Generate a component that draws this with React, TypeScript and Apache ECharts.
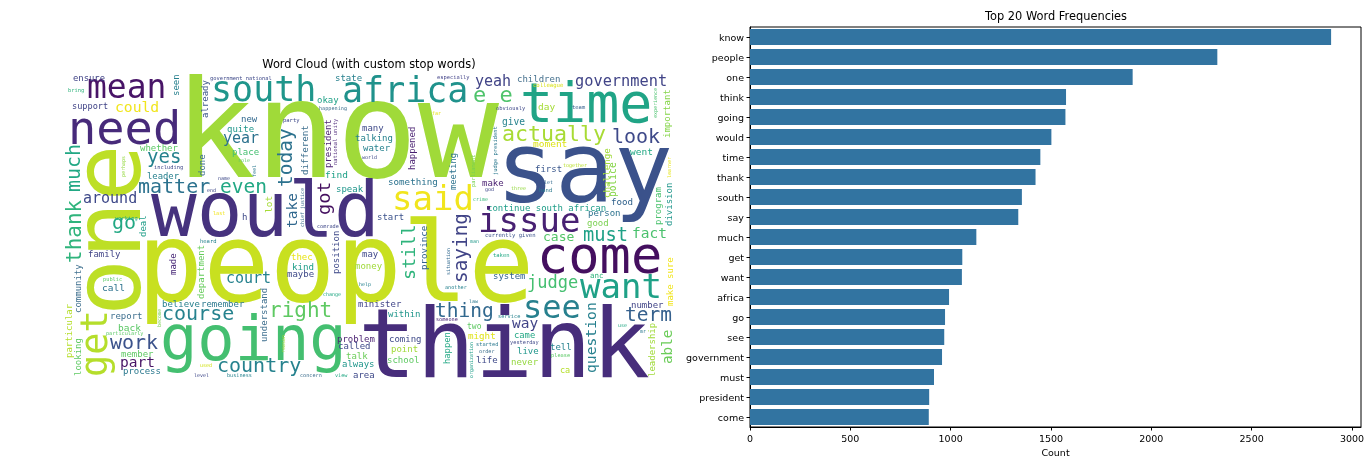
import React, { useEffect, useRef } from "react";
import * as echarts from "echarts";

const barWords = ["know","people","one","think","going","would","time","thank","south","say","much","get","want","africa","go","see","government","must","president","come"];
const barCounts = [2896,2329,1907,1575,1572,1502,1447,1423,1355,1337,1128,1058,1056,992,972,968,957,917,893,891];
const countTicks = [0,500,1000,1500,2000,2500,3000];

const cloudWords = ["know","people","one","would","say","think","going","time","mean","need","south","africa","said","actually","e e","yeah","children","government","look","moment","give","day","obviously","team","far","colleague","especially","parliament","judge president","happened","meeting","important","experience","challenge","police","program","division","learner","went","first","together","something","make","god","three","let","hand","crime","continue south african","food","person","good","start","issue","saying","still","province","situation","man","currently given","taken","another","system","law","service","case","must","fact","come","want","judge","anc","see","thing","term","number","make sure","question","way","within","two","someone","might","came","use","mr","leadership","able","tell","please","ca","live","never","life","yesterday","started","order","organization","happen","coming","point","school","minister","area","always","talk","called","problem","help","may","money","change","position","comrade","thec","kind","maybe","court","call","public","family","heard","made","department","understand","believe","remember","course","right","report","back","work","particularly","member","part","process","country","used","level","business","concern","view","reason","become","get","looking","particular","community","thank","much","go","deal","working","around","matter","even","yes","whether","including","leader","perhaps","could","support","ensure","bring","seen","already","government national","state","okay","happening","party","new","quite","year","place","role","done","name","end","feel","lot","last","h","take","today","different","president","national unity","got","chief justice","find","speak","many","talking","water","world"];

// word -> [start x, baseline y, font size, vertical, colour] in page pixels of the cloud image
const cloudLayout: Record<string, [number, number, number, number, string]> = {
  know:[174,177,135,0,"#a0da39"], people:[137,301,110,0,"#c8e020"], one:[140,316,95,1,"#bddf26"], would:[151,236,76,0,"#46327e"], say:[496,202,98,0,"#3b528b"], think:[358,377,97,0,"#472d7b"], going:[160,360,62,0,"#44bf70"], time:[520,122,55,0,"#20a486"],
  mean:[87,98,33,0,"#481467"], need:[68,144,47,0,"#472a7a"], south:[211,101,35,0,"#1f968b"], africa:[342,102,35,0,"#20928c"], said:[392,210,34,0,"#f1e51d"], actually:[502,141,21.6,0,"#a8db34"], "e e":[473,102,22,0,"#4ec36b"], yeah:[475,86,15,0,"#414487"], children:[517,82,9,0,"#46718e"], government:[575,86,15.3,0,"#414487"], look:[612,143,20,0,"#3e4989"], moment:[533,147,9.5,0,"#dde318"], give:[502,125,9.6,0,"#26828e"], day:[538,110,9.5,0,"#a5db36"], obviously:[496,110,5.4,0,"#3f4889"], team:[572,109,5.5,0,"#355f8d"], far:[432,115,5,0,"#e5e419"], colleague:[533,87,5.6,0,"#d8e219"], especially:[437,79,5.4,0,"#46468a"],
  parliament:[475,187,5.4,1,"#7ad151"], "judge president":[497,175,5.4,1,"#2a788e"], happened:[415,170,9,1,"#481f70"], meeting:[456,190,8.8,1,"#2c728e"], important:[670,138,9,1,"#86d549"], experience:[657,118,5,1,"#4ac16d"], challenge:[610,198,9.2,1,"#a0da39"], police:[616,197,9.6,1,"#86d549"], program:[661,225,9,1,"#4ac16d"], division:[672,226,9,1,"#1f968b"], learner:[671,178,5,1,"#e5e419"],
  went:[630,155,9.5,0,"#22a884"], first:[535,172,9,0,"#39568c"], together:[563,167,5,0,"#b8de29"], something:[388,185,9.2,0,"#2c728e"], make:[482,186,9,0,"#481f70"], god:[485,191,5,0,"#3f4889"], three:[511,190,5,0,"#95d840"], let:[544,184,5,0,"#31688e"], hand:[539,192,5.5,0,"#2a788e"], crime:[473,201,5,0,"#35b779"], "continue south african":[487,211,9,0,"#1f9e89"], food:[611,205,9.2,0,"#33638d"], person:[588,216,9,0,"#2c728e"], good:[587,226,9,0,"#7ad151"], start:[377,220,9,0,"#3b528b"], issue:[478,232,34,0,"#482173"],
  saying:[467,283,19.4,1,"#414487"], still:[415,280,18.5,1,"#2fb47c"], province:[427,270,9.2,1,"#33638d"], situation:[450,275,5,1,"#31688e"], man:[470,243,5,0,"#2a9d8f"], "currently given":[485,237,5.6,0,"#3b528b"], taken:[493,257,5.5,0,"#22a884"], another:[445,289,5.2,0,"#26828e"], system:[493,279,9,0,"#33638d"], law:[469,303,5,0,"#2a788e"], service:[498,318,5.3,0,"#26828e"], case:[543,241,13,0,"#54c568"], must:[583,241,18.7,0,"#1fa187"], fact:[632,238,14.5,0,"#4ac16d"], come:[537,273,52,0,"#440f5f"], want:[580,298,34,0,"#1fa187"], judge:[527,288,17,0,"#44bf70"], anc:[590,278,7.5,0,"#2eb37c"], see:[523,318,32,0,"#27808e"], thing:[435,317,19.5,0,"#31688e"], term:[625,321,19.5,0,"#35608d"], number:[631,308,9,0,"#414487"],
  "make sure":[673,306,9,1,"#f1e51d"], question:[596,373,14.7,1,"#27808e"], way:[512,328,14.5,0,"#414487"], within:[388,317,9,0,"#1f968b"], two:[467,329,8,0,"#5ec962"], someone:[436,321,5.2,0,"#482475"], might:[468,339,9.2,0,"#e0e318"], came:[514,338,8.8,0,"#22a884"], use:[618,327,5,0,"#22a884"], mr:[640,333,5,0,"#2a788e"], leadership:[655,377,9,1,"#a0da39"], able:[672,364,14.3,1,"#6ccd5a"], tell:[550,350,9,0,"#26828e"], please:[551,357,5.3,0,"#5ac864"], ca:[560,373,8.5,0,"#b5de2b"], live:[517,354,9,0,"#1f968b"], never:[511,365,9,0,"#95d840"], life:[476,363,9,0,"#3e4989"], yesterday:[510,344,5.3,0,"#3f4889"], started:[476,346,5.3,0,"#2a788e"], order:[479,353,5.2,0,"#3e6f8e"], organization:[473,378,5,1,"#1f9e89"], happen:[450,364,8.8,1,"#22a884"], coming:[389,342,9,0,"#3e4989"], point:[391,352,9,0,"#a0da39"], school:[387,363,9,0,"#5ec962"], minister:[358,307,9,0,"#404588"], area:[353,378,9,0,"#3e4989"], always:[342,367,9,0,"#1f968b"], talk:[346,359,9,0,"#6ccd5a"], called:[338,349,9,0,"#3e4989"], problem:[337,342,9,0,"#481f70"], help:[359,286,5,0,"#26828e"], may:[362,257,9,0,"#3f4889"], money:[355,269,9,0,"#a0da39"], change:[323,296,5,0,"#22a884"], position:[339,274,9,1,"#3e4989"], comrade:[317,228,5.2,0,"#3f4889"], thec:[291,260,9,0,"#e8e419"], kind:[292,270,9.2,0,"#1f9e89"], maybe:[287,277,9,0,"#3e4989"], court:[226,283,15,0,"#26828e"], call:[102,291,9.5,0,"#2c728e"], public:[103,281,5.3,0,"#5ac864"], family:[88,257,9,0,"#414487"], heard:[200,243,5.5,0,"#26828e"], made:[176,275,9,1,"#482878"], department:[204,299,9,1,"#66cc5c"], understand:[267,342,9,1,"#3e6f8e"], believe:[162,307,9,0,"#27808e"], remember:[201,307,9,0,"#2a788e"], course:[162,320,20,0,"#26828e"], right:[269,317,21,0,"#5ec962"], report:[110,319,9,0,"#3e6f8e"], back:[118,331,9.5,0,"#5ac864"], work:[110,349,20,0,"#3b528b"], particularly:[106,335,5.2,0,"#5ac864"], member:[121,357,9,0,"#5ec962"], part:[120,367,14.5,0,"#471365"], process:[123,374,9,0,"#2a788e"], country:[217,372,20,0,"#26828e"], used:[200,367,5,0,"#d2e21b"], level:[194,377,5,0,"#3f4889"], business:[227,377,5.2,0,"#26828e"], concern:[300,377,5.2,0,"#3e6f8e"], view:[335,377,5.2,0,"#22a884"], reason:[285,353,5,1,"#a0da39"], become:[161,327,5,1,"#7ad151"],
  get:[107,377,37,1,"#b5de2b"], looking:[81,376,9,1,"#5ec962"], particular:[72,358,9,1,"#b5de2b"], community:[81,313,9,1,"#3e6f8e"], thank:[81,263,21,1,"#2fb47c"], much:[80,192,20,1,"#22a884"], go:[112,229,20,0,"#22a884"], deal:[146,237,9,1,"#1f9e89"], working:[115,220,5.4,0,"#22a884"], around:[83,203,15,0,"#3e4989"], matter:[138,193,20,0,"#2c728e"], even:[220,193,19.5,0,"#22a884"], yes:[147,163,19,0,"#26828e"], whether:[140,151,9,0,"#5ac864"], including:[154,169,5.4,0,"#3f4889"], leader:[147,179,8.9,0,"#27808e"], perhaps:[125,177,5,1,"#95d840"], could:[115,112,14.7,0,"#f1e51d"], support:[72,109,8.6,0,"#414487"], ensure:[73,81,8.9,0,"#414487"], bring:[68,92,5.4,0,"#2eb37c"], seen:[179,96,9,1,"#27808e"], already:[208,118,9,1,"#3f5a8c"], "government national":[210,80,5.4,0,"#3e4989"], state:[335,81,9,0,"#27808e"], okay:[317,103,9,0,"#1fa187"], happening:[319,110,5.2,0,"#3e6f8e"], party:[283,122,5.5,0,"#3e4989"], new:[241,122,9,0,"#31688e"], quite:[227,132,9,0,"#1f968b"], year:[223,143,15,0,"#2c728e"], place:[232,155,9,0,"#44bf70"], role:[238,162,5,0,"#5ac864"], done:[205,176,9,1,"#3e6f8e"], name:[218,180,5,0,"#3e4989"], end:[207,192,5,0,"#3f4889"], feel:[256,177,5,1,"#2a788e"], lot:[272,213,9.5,1,"#a5db36"], last:[213,215,5.2,0,"#f1e51d"], h:[242,220,9,0,"#3e4989"], take:[297,228,14.5,1,"#31688e"], today:[292,187,19.5,1,"#2c728e"], different:[308,175,9.2,1,"#3e6f8e"], president:[331,168,9,1,"#481f70"], "national unity":[337,165,5.5,1,"#5c3a85"], got:[330,215,18.5,1,"#440f5f"], "chief justice":[304,227,5,1,"#3e6f8e"], find:[325,178,9.5,0,"#1fa187"], speak:[336,192,9,0,"#1f968b"], many:[362,131,9,0,"#3e4989"], talking:[355,141,9,0,"#26828e"], water:[363,151,9,0,"#26828e"], world:[362,159,5,0,"#3e4989"],
};

const cloudFont = '"DejaVu Sans Mono", monospace';
const uiFont = '"DejaVu Sans", sans-serif';
const CENTRAL = 0.346; // distance from alphabetic baseline to the central baseline, in ems

export default function App() {
  const ref = useRef<HTMLDivElement>(null);
  useEffect(() => {
    document.body.style.margin = "0";
    const chart = echarts.init(ref.current!, undefined, { renderer: "svg" });
    chart.setOption({
      animation: false,
      backgroundColor: "#fff",
      title: [
        { text: "Top 20 Word Frequencies", left: 1056, top: 10, padding: 0, textAlign: "center", textStyle: { fontFamily: uiFont, fontSize: 11.4, fontWeight: "normal", color: "#000" } },
        { text: "Word Cloud (with custom stop words)", left: 369, top: 58, padding: 0, textAlign: "center", textStyle: { fontFamily: uiFont, fontSize: 11.4, fontWeight: "normal", color: "#000" } },
      ],
      grid: [
        { left: 750, top: 27, width: 611, height: 400, show: true, borderColor: "#000", borderWidth: 1, backgroundColor: "transparent" },
        { left: 67, top: 70, width: 610, height: 310, show: false },
      ],
      xAxis: [
        {
          gridIndex: 0, type: "value", min: 0, max: 3045, position: "bottom",
          name: "Count", nameLocation: "middle", nameGap: 19,
          nameTextStyle: { fontFamily: uiFont, fontSize: 9.5, color: "#000" },
          splitLine: { show: false },
          axisLine: { show: true, lineStyle: { color: "#000", width: 1 } },
          axisTick: { show: true, length: 3.5, customValues: countTicks, lineStyle: { color: "#000" } },
          axisLabel: { customValues: countTicks, formatter: (v: number) => String(v), fontFamily: uiFont, fontSize: 9.5, color: "#000", margin: 6 },
        },
        { gridIndex: 1, type: "value", min: 67, max: 677, show: false },
      ],
      yAxis: [
        {
          gridIndex: 0, type: "category", inverse: true, data: barWords,
          axisLine: { show: true, lineStyle: { color: "#000", width: 1 } },
          axisTick: { show: true, alignWithLabel: true, length: 3.5, lineStyle: { color: "#000" } },
          axisLabel: { fontFamily: uiFont, fontSize: 9.5, color: "#000", margin: 6, interval: 0 },
        },
        { gridIndex: 1, type: "value", min: 70, max: 380, inverse: true, show: false },
      ],
      series: [
        { type: "bar", xAxisIndex: 0, yAxisIndex: 0, data: barCounts, barCategoryGap: "20%", itemStyle: { color: "#3274a1" } },
        {
          type: "custom", xAxisIndex: 1, yAxisIndex: 1, clip: false, silent: true,
          data: cloudWords.map((w, i) => {
            const l = cloudLayout[w];
            return [l[0], l[1], l[2], l[3], i];
          }),
          dimensions: ["x", "y", "size", "vertical", "word"],
          encode: { x: 0, y: 1 },
          renderItem: (_p: any, api: any) => {
            const word = cloudWords[api.value(4)];
            const size = api.value(2);
            const vertical = api.value(3) === 1;
            const c = api.coord([api.value(0), api.value(1)]);
            return {
              type: "text",
              x: vertical ? c[0] - CENTRAL * size : c[0],
              y: vertical ? c[1] : c[1] - CENTRAL * size,
              rotation: vertical ? Math.PI / 2 : 0,
              style: { x: 0, y: 0, text: word, fill: cloudLayout[word][4], font: `${size}px ${cloudFont}`, align: "left", verticalAlign: "middle" },
            };
          },
        },
      ],
    });
    return () => chart.dispose();
  }, []);
  return <div ref={ref} style={{ position: "absolute", left: 0, top: 0, width: 1371, height: 466, filter: "blur(0.45px)" }} />;
}
